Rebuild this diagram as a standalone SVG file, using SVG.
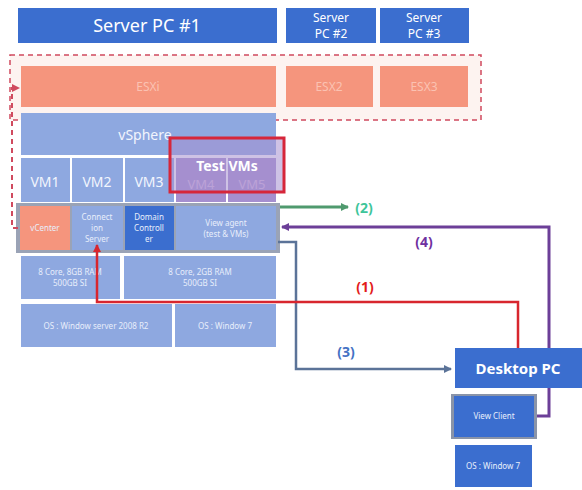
<svg xmlns="http://www.w3.org/2000/svg" width="582" height="490" viewBox="0 0 582 490">
<defs>
<style>
text{font-family:"Noto Sans","Liberation Sans",sans-serif;text-anchor:middle}
.hdr{fill:#3b6ecf}
.esx{fill:#f5957d}
.lb{fill:#8ea8e0}
.db{fill:#3b6ecf}
.w{fill:#ffffff}
.esxt{fill:#fbc2b2;font-size:12px}
.sm{fill:#e8eefb;font-size:8px}
.vm{fill:#f2f5fd;font-size:14px}
</style>
<marker id="mg" markerWidth="8" markerHeight="8" refX="7" refY="4" orient="auto" markerUnits="userSpaceOnUse"><path d="M0,0 L8,4 L0,8 z" fill="#4f9a6e"/></marker>
<marker id="mp" markerWidth="8" markerHeight="8" refX="7" refY="4" orient="auto" markerUnits="userSpaceOnUse"><path d="M0,0 L8,4 L0,8 z" fill="#6c3f98"/></marker>
<marker id="mb" markerWidth="8" markerHeight="8" refX="7" refY="4" orient="auto" markerUnits="userSpaceOnUse"><path d="M0,0 L8,4 L0,8 z" fill="#5b7398"/></marker>
<marker id="mr" markerWidth="8" markerHeight="8" refX="7" refY="4" orient="auto" markerUnits="userSpaceOnUse"><path d="M0,0 L8,4 L0,8 z" fill="#d8262e"/></marker>
<marker id="md" markerWidth="8" markerHeight="8" refX="7" refY="4" orient="auto" markerUnits="userSpaceOnUse"><path d="M0,0 L8,4 L0,8 z" fill="#d04a5e"/></marker>
</defs>
<rect width="582" height="490" fill="#ffffff"/>

<g id="server1"><rect class="hdr" x="18" y="8" width="259" height="35"/><text x="147" y="32" class="w" font-size="18">Server PC #1</text></g>
<g id="server2"><rect class="hdr" x="286" y="8" width="90" height="35"/><text x="331" y="22" class="w" font-size="12">Server</text><text x="331" y="38" class="w" font-size="12">PC #2</text></g>
<g id="server3"><rect class="hdr" x="380" y="8" width="89" height="35"/><text x="424" y="22" class="w" font-size="12">Server</text><text x="424" y="38" class="w" font-size="12">PC #3</text></g>

<g id="esxframe"><rect x="10" y="55" width="471" height="65" fill="#fdf3f0" stroke="#d04a5e" stroke-width="1.5" stroke-dasharray="5,4"/></g>
<g id="esxi"><rect class="esx" x="21" y="66" width="255" height="41"/><text x="148" y="91" class="esxt">ESXi</text></g>
<g id="esx2"><rect class="esx" x="286" y="66" width="87" height="41"/><text x="329" y="91" class="esxt">ESX2</text></g>
<g id="esx3"><rect class="esx" x="380" y="66" width="88" height="41"/><text x="424" y="91" class="esxt">ESX3</text></g>

<g id="vsphere"><rect class="lb" x="21" y="113" width="255" height="42"/><text x="145" y="140" class="vm">vSphere</text></g>
<g id="vm1"><rect class="lb" x="21" y="158" width="49" height="44"/><text x="45" y="187" class="vm">VM1</text></g>
<g id="vm2"><rect class="lb" x="72" y="158" width="51" height="44"/><text x="97" y="187" class="vm">VM2</text></g>
<g id="vm3"><rect class="lb" x="125" y="158" width="49" height="44"/><text x="149" y="187" class="vm">VM3</text></g>
<g id="vm4"><rect fill="#a58fcf" x="176" y="158" width="50" height="44"/><text x="201" y="189" fill="#d6b8e0" font-size="13">VM4</text></g>
<g id="vm5"><rect fill="#a58fcf" x="228" y="158" width="48" height="44"/><text x="252" y="189" fill="#d6b8e0" font-size="13">VM5</text></g>
<g id="testvms"><rect x="170" y="138" width="114" height="54" fill="#a58fcf" fill-opacity="0.55" stroke="#d6263a" stroke-width="3"/><text x="227" y="171" class="w" font-size="14" font-weight="bold">Test VMs</text></g>

<g id="approw"><rect x="16" y="203" width="264" height="50" fill="#9aa3b6"/></g>
<g id="vcenter"><rect class="esx" x="20" y="206" width="50" height="44"/><text x="45" y="231" class="sm">vCenter</text></g>
<g id="connsrv"><rect class="lb" x="72" y="206" width="51" height="44"/><text x="97" y="220" class="sm">Connect</text><text x="97" y="231" class="sm">ion</text><text x="97" y="242" class="sm">Server</text></g>
<g id="domain"><rect class="db" x="125" y="206" width="49" height="44"/><text x="149" y="220" class="sm">Domain</text><text x="149" y="231" class="sm">Controll</text><text x="149" y="242" class="sm">er</text></g>
<g id="viewagent"><rect class="lb" x="176" y="206" width="100" height="44"/><text x="226" y="226" class="sm">View agent</text><text x="226" y="237" class="sm">(test &amp; VMs)</text></g>

<g id="hw1"><rect class="lb" x="21" y="256" width="99" height="43"/><text x="70" y="275" class="sm">8 Core, 8GB RAM</text><text x="70" y="286" class="sm">500GB SI</text></g>
<g id="hw2"><rect class="lb" x="124" y="256" width="152" height="43"/><text x="200" y="275" class="sm">8 Core, 2GB RAM</text><text x="200" y="286" class="sm">500GB SI</text></g>
<g id="os1"><rect class="lb" x="21" y="304" width="151" height="43"/><text x="96" y="329" class="sm">OS : Window server 2008 R2</text></g>
<g id="os2"><rect class="lb" x="175" y="304" width="101" height="43"/><text x="225" y="329" class="sm">OS : Window 7</text></g>

<g id="connectors" fill="none">
<path d="M18,228 H12 V88 H19" stroke="#d04a5e" stroke-width="2" stroke-dasharray="5,4" marker-end="url(#md)"/>
<path d="M280,207 H348" stroke="#4f9a6e" stroke-width="3" marker-end="url(#mg)"/>
<path d="M535,416 H549 V227 H282" stroke="#6c3f98" stroke-width="3" marker-end="url(#mp)"/>
<path d="M278,242 H296 V369 H451" stroke="#5b7398" stroke-width="2.5" marker-end="url(#mb)"/>
<path d="M518,350 V302 H97 V245" stroke="#d8262e" stroke-width="2.5" marker-end="url(#mr)"/>
</g>

<g id="desktop"><rect class="db" x="455" y="348" width="127" height="40"/><text x="518" y="374" class="w" font-size="15" font-weight="bold">Desktop PC</text></g>
<g id="viewclient"><rect x="451" y="394" width="86" height="45" fill="#8a94a8"/><rect class="db" x="454" y="396" width="80" height="41"/><text x="494" y="419" class="sm">View Client</text></g>
<g id="deskos"><rect class="db" x="455" y="445" width="77" height="42"/><text x="493" y="469" class="sm">OS : Window 7</text></g>

<g id="labels" font-weight="bold" font-size="14">
<text x="364" y="213" fill="#3ec59a">(2)</text>
<text x="424" y="247" fill="#7030a0">(4)</text>
<text x="365" y="292" fill="#e31b1b">(1)</text>
<text x="346" y="357" fill="#4472c4">(3)</text>
</g>
</svg>
